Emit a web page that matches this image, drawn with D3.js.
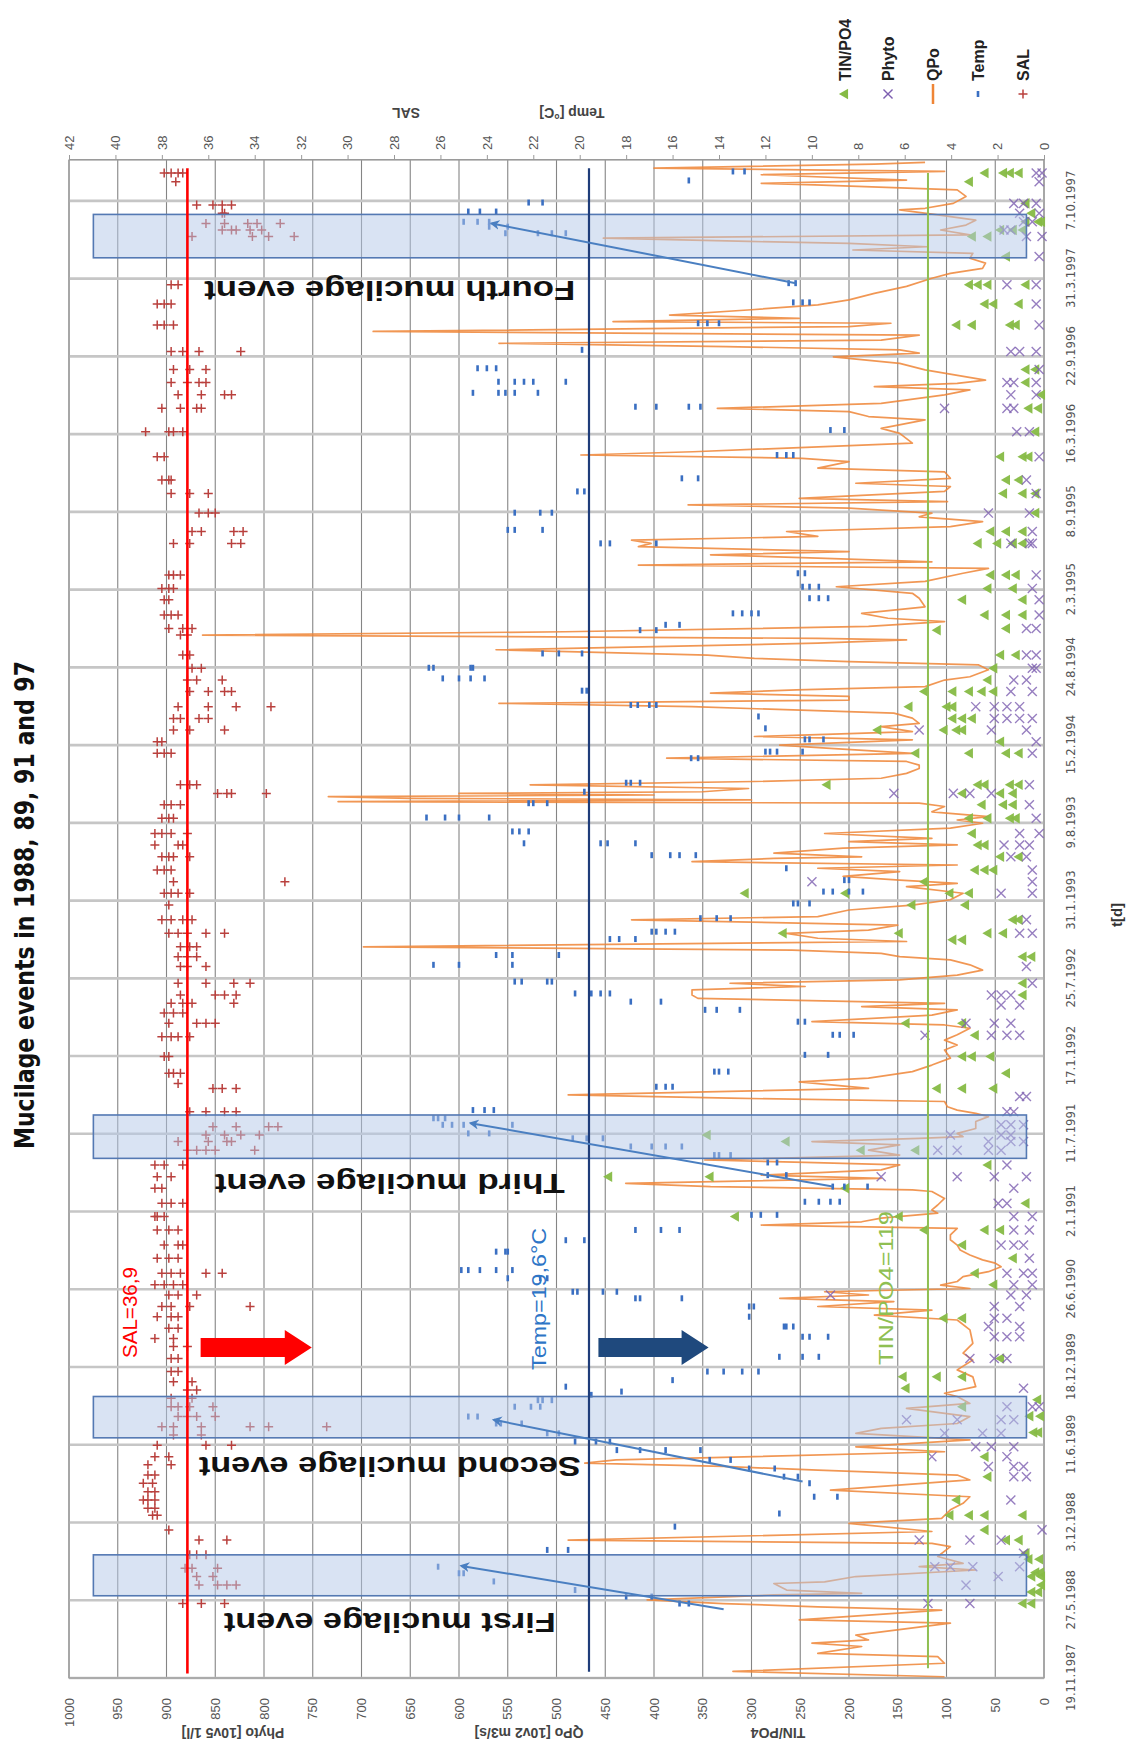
<!DOCTYPE html>
<html><head><meta charset="utf-8">
<script src="https://cdn.jsdelivr.net/npm/d3@7"></script>
<style>body{margin:0;background:#fff}svg{display:block}</style>
</head><body>
<svg id="c" width="1131" height="1751"></svg>
<script>
// ---------- data ----------
const dateLabels = ["19.11.1987","27.5.1988","3.12.1988","11.6.1989","18.12.1989","26.6.1990","2.1.1991","11.7.1991","17.1.1992","25.7.1992","31.1.1993","9.8.1993","15.2.1994","24.8.1994","2.3.1995","8.9.1995","16.3.1996","22.9.1996","31.3.1997","7.10.1997"];
const leftTicks = [0,50,100,150,200,250,300,350,400,450,500,550,600,650,700,750,800,850,900,950,1000];
const rightTicks = [0,2,4,6,8,10,12,14,16,18,20,22,24,26,28,30,32,34,36,38,40,42];
const seriesNames = ["TIN/PO4","Phyto","QPo","Temp","SAL"];
// days since 19.11.1987
const qpo = [[3,102],[16,319],[36,102],[52,109],[60,232],[77,187],[85,238],[93,180],[105,193],[134,96],[142,251],[166,105],[174,232],[182,329],[191,407],[203,277],[207,187],[215,264],[231,277],[235,225],[248,193],[264,70],[272,128],[280,83],[297,109],[321,96],[329,115],[337,488],[358,115],[378,200],[390,105],[411,96],[427,83],[443,76],[459,219],[484,76],[496,89],[508,232],[517,329],[525,471],[533,439],[541,297],[553,102],[565,193],[582,76],[598,193],[610,167],[622,89],[639,76],[659,141],[671,76],[688,89],[696,102],[712,70],[736,73],[753,89],[777,73],[794,83],[818,73],[851,76],[875,89],[887,174],[899,115],
[908,232],[920,154],[928,271],[936,180],[944,225],[952,76],[960,106],[969,89],[981,83],[993,57],[1005,44],[1014,50],[1022,63],[1034,76],[1046,86],[1058,89],[1071,96],[1083,96],[1099,89],[1107,290],[1115,187],[1124,167],[1136,109],[1144,115],[1156,109],[1172,102],[1189,115],[1193,135],[1201,342],[1209,429],[1221,167],[1229,290],[1242,167],[1254,148],[1260,245],[1266,348],[1278,148],[1290,180],[1303,148],[1311,238],[1319,128],[1323,83],[1331,89],[1343,70],[1360,70],[1372,57],[1380,70],[1388,89],[1396,99],[1409,102],[1417,322],[1425,488],[1441,180],[1457,251],[1466,180],[1482,135],[1498,115],[1515,96],[1535,102],[1547,89],[1559,102],[1572,89],[1588,76],[1596,102],[1604,238],[1620,115],[1633,89],[1641,187],[1649,102],[1661,355],[1669,361],[1682,361],[1690,245],[1698,322],[1706,148],[1718,89],[1730,63],[1743,76],[1755,96],[1763,148],[1771,167],[1779,258],[1787,698],[1800,141],[1808,232],[1820,264],[1828,180],[1840,150],
[1853,423],[1861,232],[1877,200],[1889,135],[1902,96],[1918,83],[1934,141],[1942,89],[1950,148],[1959,206],[1971,148],[1979,232],[1987,89],[1995,361],[2003,277],[2007,187],[2016,277],[2028,206],[2036,89],[2044,200],[2052,115],[2064,225],[2077,96],[2089,63],[2097,89],[2105,57],[2117,115],[2130,102],[2138,128],[2142,724],[2146,300],[2150,650],[2154,734],[2158,400],[2162,600],[2166,350],[2174,303],[2183,527],[2191,297],[2199,167],[2211,141],[2223,128],[2231,128],[2240,141],[2248,387],[2260,135],[2272,219],[2280,271],[2293,135],[2301,297],[2313,135],[2325,167],[2333,128],[2346,135],[2358,154],[2374,361],[2382,559],[2390,200],[2399,200],[2407,342],[2415,254],[2423,122],[2439,102],[2447,76],[2464,57],[2476,67],[2484,200],[2492,297],[2500,345],[2513,562],[2529,232],[2537,141],[2541,232],[2549,863],[2557,491],[2570,180],[2582,102],[2590,160],[2602,187],[2618,122],[2639,128],[2651,135],[2667,213],[2680,122],[2700,83],[2712,57],[2720,416],[2728,115],[2737,232],[2745,342],[2753,200],[2765,416],[2773,403],
[2781,423],[2790,232],[2802,264],[2814,96],[2826,63],[2838,128],[2847,115],[2859,200],[2867,365],[2875,99],[2883,251],[2900,102],[2912,96],[2920,193],[2932,96],[2940,99],[2948,102],[2957,232],[2973,200],[2981,248],[2989,475],[2997,360],[3018,135],[3042,148],[3054,167],[3075,122],[3083,180],[3095,200],[3103,335],[3115,167],[3136,102],[3148,76],[3156,174],[3164,89],[3172,60],[3197,122],[3213,148],[3229,216],[3238,128],[3246,148],[3254,326],[3262,559],[3270,167],[3282,128],[3291,688],[3303,200],[3311,157],[3315,442],[3323,251],[3331,384],[3344,300],[3356,232],[3368,200],[3384,174],[3401,141],[3421,115],[3433,96],[3445,63],[3458,60],[3470,76],[3482,73],[3490,196],[3498,120],[3506,200],[3511,303],[3519,452],[3527,76],[3539,106],[3551,80],[3563,70],[3576,109],[3588,148],[3592,122],[3604,93],[3621,80],[3637,89],[3649,235],[3653,290],[3661,141],[3674,290],[3682,102],[3690,400],[3700,174],[3704,122]];

const salRows = [[182,37.1,36.3,35.3],[227,36.4,35.6,35.2,34.8],[248,36.5,35.8],[268,37.0,36.7,35.6],[301,36.8,36.5,36.1],[337,36.4,35.2],[362,37.7],[398,38.4,38.2],[415,38.6,38.3],[435,38.8,38.6,38.3],[455,38.6,38.3],[476,38.8,38.4],[496,38.6,38.3],[521,38.6,37.6],[541,38.3,37.7],[569,38.2,36.1,35.0],[594,37.5,36.3],[614,38.0,37.5,36.3,34.2,33.4,30.9],[639,37.3,36.9,36.5,35.7],[663,37.6,37.3,36.8,35.8],[684,37.6,36.7],[704,36.9,36.5],[724,37.5,36.7],[749,37.6,37.3],[781,37.6,37.3],[810,37.5,36.9],[830,38.3,37.5],[855,37.7,37.3],[883,38.2,37.6,37.3],
[908,38.0,37.6,36.8,34.2],[936,37.7,37.3,36.5],[961,38.3,37.9,37.5,37.1],[989,38.0,37.6,37.2,36.1,35.4],[1026,38.2,37.7,37.3],[1058,37.9,37.3,37.1],[1095,38.2,37.7,37.3],[1128,38.3,38.2,37.9],[1160,38.0,37.6,37.1],[1197,38.3,38.0],[1225,38.2,37.6],[1254,38.3,37.9,37.1],[1290,36.9,36.5,36.1,35.7,34.0],[1311,37.3,36.0,35.2,35.0],[1327,36.1,35.3,34.6,33.8],[1347,35.8,34.8,33.4,33.0],[1384,36.8,36.1,35.3,34.8],[1441,35.8,35.4,34.8],[1453,37.3],[1478,37.7,37.5,37.2],[1519,37.9,37.7],[1567,38.0,37.6,37.3,36.8],[1600,37.7,36.5,36.1,35.7],[1625,37.9,37.5,37.1],[1649,37.6,37.1,36.7,34.9],[1669,37.2,35.7,35.3,34.8],[1698,37.3,36.1,34.9,34.2],[1739,37.2,36.9,36.1],[1763,37.3,36.9,36.5],[1787,37.2,36.8,36.5],[1820,37.7,37.3,36.9,36.1,35.3],
[1853,38.0,37.6,37.1,36.7],[1889,37.7],[1918,37.9,37.6,37.3,36.8],[1946,37.5,32.7],[1975,38.2,37.9,37.6],[2007,38.0,37.7,37.5,36.8],[2036,38.3,37.3,37.1],[2064,38.3,38.0,37.6,36.9],[2101,38.0,37.7,37.5],[2134,37.9,37.6,37.2],[2162,35.6,35.2,35.0,33.5],[2183,37.2,36.8,36.5],[2260,38.2,37.9,37.6],[2288,38.2,38.0],[2317,37.5,36.8,35.3],[2345,37.5,37.2,36.4,36.0],[2374,37.3,36.0,34.8,33.3],[2411,36.8,36.0,35.3,35.0],[2439,36.9,36.5,35.4],[2468,36.7,36.3],[2500,37.1,36.8],[2549,37.2,36.9],[2565,37.7,37.1,36.7],[2598,37.9,37.6,37.3],[2635,37.9,37.7],[2663,38.0,37.7,37.5],[2696,37.7,37.5,37.2],
[2773,37.5,36.8,35.0,34.6],[2802,36.7,36.3,34.9,34.5],[2847,36.4,36.0,35.7],[2895,37.6,36.8,36.0],[2928,38.0,37.7,37.6],[2985,38.2,37.9],[3046,38.7,37.7,37.5,37.1],[3103,38.0,37.2,36.5,36.3],[3136,37.3,36.3,35.3,35.0],[3166,37.6,36.9,36.4,36.1],[3198,37.5,36.8,36.1],[3242,37.6,37.1,36.4,34.6],[3307,38.2,37.9,37.5],[3358,38.2,37.9,37.6],[3405,37.6,37.3],[3523,36.7,34.1,33.4,32.3],[3539,35.4,35.0,34.8,34.2,33.7],[3555,36.1,35.3,34.3,33.9,32.9],[3580,35.4,35.3],[3600,36.5,35.8,35.4,35.0],[3657,37.4],[3678,37.9,37.6,37.3,37.1]];

const tempRows = [[182,15.7,15.3],[199,18.0,16.9],[215,20.2],[236,23.7],[256,25.2,25.0],[272,26.1],[313,21.4,20.5],[370,15.9],[402,11.4],[443,9.9,8.9],[476,10.1],[492,11.2,10.6],[512,12.7,11.6],[533,14.4,13.5],[557,18.4,17.4,16.3,14.8],[578,20.2,19.3,18.7],[598,21.4,20.9],[622,23.6,23.4,22.5],[639,24.8,24.4],[663,22.8,22.1,21.7],[679,21.8,21.6,21.2],[692,19.5],[700,18.2],[712,20.6],[728,16.0],[749,14.5,13.8,13.0,12.3],[785,11.4,10.4,9.7],[834,10.4,10.1,9.3],[859,11.2,11.1,10.8],[883,12.7],
[908,12.7,12.5],[928,17.6,17.4,15.6],[944,20.3,20.1,19.0,18.4],[977,23.1,21.7,21.4],[997,25.1,24.8,24.3,23.6,22.9],[1042,23.6,23.2,23.1],[1070,20.6,19.8],[1095,17.6,16.5,15.7],[1132,12.6,12.2,11.5],[1164,10.3,9.7,9.2,8.8],[1201,9.1,8.6,7.6],[1229,11.9,11.1],[1260,11.9,11.5],[1278,14.2,14.0,13.5],[1299,17.8,16.9,16.3,15.6],[1319,20.3,19.7,19.0],[1331,24.8,23.9],[1352,25.9,25.5,25.0,22.9],[1368,26.3,26.1,25.8],[1388,24.6,24.1,23.7],[1445,16.7,16.3,16.0],[1482,14.2,14.0,13.6],[1523,10.3,9.3],[1572,9.1,8.8,8.2],[1604,10.6,10.3],[1633,14.6,14.1,13.1],[1653,17.8,16.5],[1673,20.2,19.5,19.1,18.7],[1702,22.8,22.5,21.4,21.2],[1743,26.3,25.2,22.9],[1767,23.6,22.9,20.9],[1806,18.7,18.3,17.6],[1824,16.9,16.7,16.3,15.9],
[1857,14.8,14.1,13.5],[1893,10.8,10.6,10.1],[1922,9.5,9.1,8.4,7.8],[1950,8.6,8.4],[1979,11.1],[2011,16.9,16.1,15.7,15.0],[2040,22.4,19.1,18.8,17.6],[2069,22.9,22.6,22.2],[2103,26.6,25.8,25.2,23.9],[2138,22.2,22.0,21.4],[2166,19.8],[2188,18.0,17.8,17.4],[2248,15.2,14.9],[2264,12.0,11.8,11.5,10.4],[2294,10.3,10.1,9.5],[2321,12.0],[2350,12.3],[2378,17.8,17.5,17.0,16.7],[2413,19.9,19.7],[2443,25.9,25.2,24.7,24.1],[2469,26.5,26.3,24.7,24.6],[2504,21.6,20.9,19.9],[2561,17.4,16.7],[2574,16.3,15.7],[2602,13.4,13.0,12.6,12.3],[2639,10.1,9.7,9.3],[2667,10.4,10.1,9.7],[2700,10.6,10.3],
[2773,19.1,18.7,16.7],[2806,23.1,22.8,21.6],[2848,22.8,21.7,21.2],[2900,20.1,19.8],[2932,15.6,14.9],[2989,11.5,11.1,10.8],[3050,9.2,8.6],[3107,17.6,16.7,15.3,14.8],[3141,24.6,23.5,23.2,22.8,21.8],[3168,23.5,22.8,22.4,22.0,20.6],[3201,24.4,24.0,23.6],[3246,19.9],[3311,14.9,14.5,14.0],[3362,10.8,10.4,10.1],[3409,11.0,10.7],[3531,23.2,21.8,21.2,20.6],[3547,23.9,23.1],[3559,25.0,24.4,23.9],[3584,24.8,24.3,23.6],[3606,22.2,21.6],[3660,15.3],[3682,13.4,12.9]];

const phytoRows = [[182,119,76],[227,80],[248,47],[272,112,96,73,25],[305,21],[337,128,76,44],[362,2],[435,34],[492,31,18],[517,57,31,21],[541,115,38],[565,70,54,31],[598,102,63,44],[631,141,89,44,31],[663,38,12,5],[708,21],[781,76,51,38],[834,51,38,25],[859,57,25],[879,51,38],
[908,51,25],[936,219,34,18],[961,31,12],[989,38,21,12],[1026,15],[1058,44,31,21],[1095,31,15],[1128,31,12],[1160,47,38],[1197,31],[1225,167,89,51,18],[1254,38],[1290,109,89,57,44],[1311,57,34,21],[1327,96,44,34],[1352,44,34,21],[1384,38,31],[1421,25,18],[1571,122,54,38,25],[1600,80,51,34],[1645,44,25],[1669,54,44,34],[1698,12],[1739,18],[1820,25,12],
[1853,18],[1918,44,12],[1946,238,12],[1975,12],[2007,34,18],[2036,41,25,15],[2064,25,5],[2101,8],[2134,15],[2162,154,93,76,54],[2183,15],[2260,12],[2288,8],[2317,128,54,18],[2345,51,38,25,12],[2374,70,51,38,25],[2411,34,12],[2439,31,18],[2468,12,8],[2500,18,8],[2565,18,8],[2598,5],[2635,5],[2663,12],[2696,8],
[2773,34,15,12],[2802,12],[2847,57,15],[2895,8],[2928,18],[2985,5],[3046,28,15],[3103,102,38,31],[3136,34,8],[3166,38,31,8],[3198,5],[3242,34,25,8],[3307,5],[3358,8],[3405,38,8],[3474,5],[3523,18,2],[3539,41,34],[3559,21,12],[3580,25,5],[3604,31,21,8],[3657,5],[3678,8,2]];

const tinRows = [[182,21,12],[210,5,12],[227,2],[248,12,2],[258,3,8],[290,4,15],[305,18],[337,38,25],[362,60],[398,96,76,60,21],[435,89],[492,57],[541,60],[600,5,10],[640,3,14],[663,83],[680,6],[708,141],[736,144,109,83],[781,44],[879,102,83],
[961,51],[989,70],[1026,31],[1058,83],[1095,122,60,44],[1128,316,148],[1160,18],[1197,203],[1225,446,342],[1254,57],[1290,187,131],[1311,264],[1327,345],[1441,109,83,51],[1478,38],[1519,83,73,54],[1571,70],[1600,141,83],[1669,21],[1698,21],[1763,21,12],[1804,93,83],[1820,267,148,57,41],
[1853,31,25],[1889,135,80],[1918,306,203,96,76],[1946,122],[1975,70,60,51],[2007,44,25],[2036,67,60],[2064,73],[2101,76,57,34,28],[2134,63,41,31],[2162,83,44,31],[2183,222,67,60,34,25],[2260,131,76,38,25],[2288,44],[2317,170,102,89,83],[2345,93,83,73],[2374,138,99,93],[2411,122,93,76,63,51],[2439,57],[2468,51],[2500,44,28],[2561,109],[2565,38],[2598,60,38,21],[2635,83,21],[2663,57,31],[2696,54,38,28],
[2773,67,47,31,21],[2802,54,38,21],[2847,8],[2895,41,21,8],[2928,38,25],[2985,44,21,15],[3046,8],[3103,15,5],[3136,2],[3166,18],[3198,18,8],[3307,89,73,34,28],[3358,60,51,25],[3405,76,67,57,18],[3474,38],[3523,73,57],[3539,44,31,21],[3559,18,5,2],[3580,12],[3604,18],[3657,76],[3678,60,41,34,25]];

// mucilage events: [startDay, endDay, label, labelDay]
const events = [[201,301,"First mucilage event",137],[587,688,"Second mucilage event",518],[1270,1376,"Third mucilage event",1210],[3471,3577,"Fourth mucilage event",3392]];
const eventValueRange = [18,975];
// temperature trend arrows within events: [day1,T1,day2,T2]
const trendArrows = [[168,13.8,274,25.1],[480,10.4,631,23.7],[1201,9.1,1356,24.7],[3409,10.7,3555,23.8]];
const refSAL = 36.9, refTemp = 19.6, refTIN = 119;

// ---------- scales ----------
const W = 1751;
const parse = d3.utcParse("%d.%m.%Y");
const t0 = parse(dateLabels[0]);
const D = d => new Date(t0.getTime() + d * 864e5);
const x = d3.scaleUtc().domain([t0, D(3710)]).range([73, 1591]);
const X = d => x(D(d));
const y = d3.scaleLinear().domain([0, 1000]).range([1044, 69]);
const y2 = d3.scaleLinear().domain([0, 42]).range([1044, 69]);

const svg = d3.select("#c");
svg.append("rect").attr("width",1131).attr("height",1751).attr("fill","#fff");
const defs = svg.append("defs");
defs.append("marker").attr("id","ah").attr("viewBox","0 0 10 10").attr("refX",8).attr("refY",5)
  .attr("markerWidth",5).attr("markerHeight",5).attr("orient","auto")
  .append("path").attr("d","M0,0L10,5L0,10L3,5Z").attr("fill","#4a7fc1");

const g = svg.append("g").attr("transform",`translate(0,${W}) rotate(-90)`);
const FONT = "'Liberation Sans', Arial, sans-serif";
const NARROW = "'Liberation Sans Narrow','DejaVu Sans Condensed', Arial, sans-serif";

// gridlines
g.append("g").selectAll("line").data(leftTicks).join("line")
  .attr("x1",X(0)).attr("x2",X(3710)).attr("y1",d=>y(d)).attr("y2",d=>y(d))
  .attr("stroke","#858585").attr("stroke-width",1.1);
g.append("g").selectAll("line").data(dateLabels).join("line")
  .attr("x1",d=>x(parse(d))).attr("x2",d=>x(parse(d))).attr("y1",y(1000)).attr("y2",y(0))
  .attr("stroke","#c6c6c6").attr("stroke-width",2.6);
g.append("rect").attr("x",X(0)).attr("y",y(1000)).attr("width",X(3710)-X(0)).attr("height",y(0)-y(1000))
  .attr("fill","none").attr("stroke","#9a9a9a").attr("stroke-width",1.2);

// QPo line
const line = d3.line().x(d=>X(d[0])).y(d=>y(d[1]));
g.append("path").datum(qpo).attr("d",line).attr("fill","none")
  .attr("stroke","#ef8536").attr("stroke-width",1.7).attr("stroke-linejoin","round").attr("opacity",0.85);

// flatten rows
const flat = rows => rows.flatMap(r => r.slice(1).map(v => [r[0], v]));

// TIN/PO4 triangles
g.append("g").selectAll("path").data(flat(tinRows)).join("path")
  .attr("d", d3.symbol(d3.symbolTriangle, 48)())
  .attr("transform", d=>`translate(${X(d[0])},${y(d[1])})`)
  .attr("fill","#86bb45").attr("opacity",0.95);
// Phyto x
g.append("g").selectAll("path").data(flat(phytoRows)).join("path")
  .attr("d", d3.symbol(d3.symbolTimes, 55)())
  .attr("transform", d=>`translate(${X(d[0])},${y(d[1])})`)
  .attr("stroke","#7d5fb0").attr("stroke-width",1.4).attr("fill","none").attr("opacity",0.8);
// Temp dashes
g.append("g").selectAll("rect").data(flat(tempRows)).join("rect")
  .attr("x", d=>X(d[0])-3).attr("y", d=>y2(d[1])-1.3).attr("width",6).attr("height",2.6)
  .attr("fill","#3a6fc2");
// SAL plus
g.append("g").selectAll("path").data(flat(salRows)).join("path")
  .attr("d","M-4.5,0H4.5M0,-4.5V4.5")
  .attr("transform", d=>`translate(${X(d[0])},${y2(d[1])})`)
  .attr("fill","none").attr("stroke","#b9403d").attr("stroke-width",1.5);

// event boxes
g.append("g").selectAll("rect").data(events).join("rect")
  .attr("x", d=>X(d[0])).attr("width", d=>X(d[1])-X(d[0]))
  .attr("y", y(eventValueRange[1])).attr("height", y(eventValueRange[0])-y(eventValueRange[1]))
  .attr("fill","#b4c7e7").attr("fill-opacity",0.5).attr("stroke","#5479b3").attr("stroke-width",1.6);

// reference lines
g.append("line").attr("x1",X(11)).attr("x2",X(3690)).attr("y1",y2(refSAL)).attr("y2",y2(refSAL))
  .attr("stroke","#ff0000").attr("stroke-width",2.6);
g.append("line").attr("x1",X(15)).attr("x2",X(3690)).attr("y1",y2(refTemp)).attr("y2",y2(refTemp))
  .attr("stroke","#1f3d7a").attr("stroke-width",2.2);
g.append("line").attr("x1",X(24)).attr("x2",X(3678)).attr("y1",y(refTIN)).attr("y2",y(refTIN))
  .attr("stroke","#8fbf52").attr("stroke-width",2);

// trend arrows
g.append("g").selectAll("line").data(trendArrows).join("line")
  .attr("x1",d=>X(d[0])).attr("y1",d=>y2(d[1])).attr("x2",d=>X(d[2])).attr("y2",d=>y2(d[3]))
  .attr("stroke","#4a7fc1").attr("stroke-width",2).attr("marker-end","url(#ah)");

// block arrows (pointing toward lower values)
function blockArrow(day, vFrom, vTo, color){
  const cx = X(day), a = y(vFrom), b = y(vTo), head = b - 27;
  const p = `M${cx-9.5},${a}L${cx+9.5},${a}L${cx+9.5},${head}L${cx+17.5},${head}L${cx},${b}L${cx-17.5},${head}L${cx-9.5},${head}Z`;
  g.append("path").attr("d",p).attr("fill",color);
}
blockArrow(808, 865, 751, "#ff0000");
blockArrow(808, 457, 344, "#1f497d");

// annotation texts
g.append("text").attr("x",X(782)).attr("y",y2(39.07)).text("SAL=36,9")
  .attr("font-family",FONT).attr("font-size",21).attr("fill","#ff0000").attr("textLength",91).attr("lengthAdjust","spacingAndGlyphs");
g.append("text").attr("x",X(753)).attr("y",y2(21.45)).text("Temp=19,6°C")
  .attr("font-family",FONT).attr("font-size",21).attr("fill","#2e75c6").attr("textLength",142).attr("lengthAdjust","spacingAndGlyphs");
g.append("text").attr("x",X(765)).attr("y",y(155)).text("TIN/PO4=119")
  .attr("font-family",FONT).attr("font-size",21).attr("fill","#8fbf52").attr("textLength",154).attr("lengthAdjust","spacingAndGlyphs");

// event labels
const evLen = [332,382,350,371];
g.append("g").selectAll("text").data(events).join("text")
  .attr("transform",(d)=>`translate(${X(d[3])},${y(671)}) rotate(-90)`)
  .attr("text-anchor","middle").attr("dominant-baseline","central")
  .attr("font-family",FONT).attr("font-weight","bold").attr("font-size",27).attr("fill","#111")
  .attr("textLength",(d,i)=>evLen[i]).attr("lengthAdjust","spacingAndGlyphs")
  .text(d=>d[2]);

// axes
const axL = g.append("g").attr("transform",`translate(${X(0)},0)`)
  .call(d3.axisLeft(y).tickValues(leftTicks).tickSize(0).tickPadding(20).tickFormat(d3.format("d")));
axL.select(".domain").remove();
axL.selectAll("text").attr("font-family",FONT).attr("font-size",13).attr("fill","#555");

const axR = g.append("g").attr("transform",`translate(${X(3710)},0)`)
  .call(d3.axisRight(y2).tickValues(rightTicks).tickSize(5).tickPadding(5).tickFormat(d3.format("d")));
axR.select(".domain").attr("stroke","#9a9a9a");
axR.selectAll("line").attr("stroke","#9a9a9a");
axR.selectAll("text").attr("font-family",FONT).attr("font-size",13).attr("fill","#555");

const axB = g.append("g").attr("transform",`translate(0,${y(0)})`)
  .call(d3.axisBottom(x).tickValues(dateLabels.map(parse)).tickSize(0).tickPadding(22)
  .tickFormat((d,i)=>dateLabels[i]));
axB.select(".domain").remove();
axB.selectAll("text").attr("font-family",NARROW).attr("font-size",13).attr("fill","#555");

// axis titles
const leftTitles = [["Phyto [10v5 1/l]",233],["QPo [10v2 m3/s]",529],["TIN/PO4",778]];
leftTitles.forEach(([t,sx])=>{
  g.append("text").attr("transform",`translate(18,${sx}) rotate(-90)`).attr("text-anchor","middle")
   .attr("dominant-baseline","central").attr("font-family",FONT).attr("font-weight","bold")
   .attr("font-size",14).attr("fill","#444").text(t);
});
const rightTitles = [["SAL",406],["Temp [°C]",572]];
rightTitles.forEach(([t,sx])=>{
  g.append("text").attr("transform",`translate(1638,${sx}) rotate(-90)`).attr("text-anchor","middle")
   .attr("dominant-baseline","central").attr("font-family",FONT).attr("font-weight","bold")
   .attr("font-size",14).attr("fill","#444").text(t);
});
g.append("text").attr("x",836).attr("y",1116).attr("text-anchor","middle").attr("dominant-baseline","central")
  .attr("font-family",FONT).attr("font-weight","bold").attr("font-size",15).attr("fill","#333").text("t[d]");

// title
g.append("text").attr("x",846).attr("y",24).attr("text-anchor","middle").attr("dominant-baseline","central")
  .attr("font-family",NARROW).attr("font-weight","bold").attr("font-size",27).attr("fill","#111")
  .attr("textLength",488).attr("lengthAdjust","spacingAndGlyphs")
  .text("Mucilage events in 1988, 89, 91 and 97");

// legend
const legY = [845,888,933,978,1023];
const lg = g.append("g");
seriesNames.forEach((n,i)=>{
  const cy = legY[i], cx = 1657;
  if(n==="TIN/PO4") lg.append("path").attr("d",d3.symbol(d3.symbolTriangle,48)()).attr("transform",`translate(${cx},${cy})`).attr("fill","#86bb45");
  if(n==="Phyto") lg.append("path").attr("d",d3.symbol(d3.symbolTimes,55)()).attr("transform",`translate(${cx},${cy})`).attr("stroke","#7d5fb0").attr("stroke-width",1.4).attr("fill","none");
  if(n==="QPo") lg.append("line").attr("x1",cx-10).attr("x2",cx+10).attr("y1",cy).attr("y2",cy).attr("stroke","#ef8536").attr("stroke-width",2.5);
  if(n==="Temp") lg.append("rect").attr("x",cx-3).attr("y",cy-1.3).attr("width",6).attr("height",2.6).attr("fill","#3a6fc2");
  if(n==="SAL") lg.append("path").attr("d","M-4.5,0H4.5M0,-4.5V4.5").attr("transform",`translate(${cx},${cy})`).attr("stroke","#b9403d").attr("stroke-width",1.5);
  lg.append("text").attr("x",1670).attr("y",cy).attr("dominant-baseline","central")
    .attr("font-family",FONT).attr("font-weight","bold").attr("font-size",16).attr("fill","#222").text(n);
});
</script>
</body></html>
